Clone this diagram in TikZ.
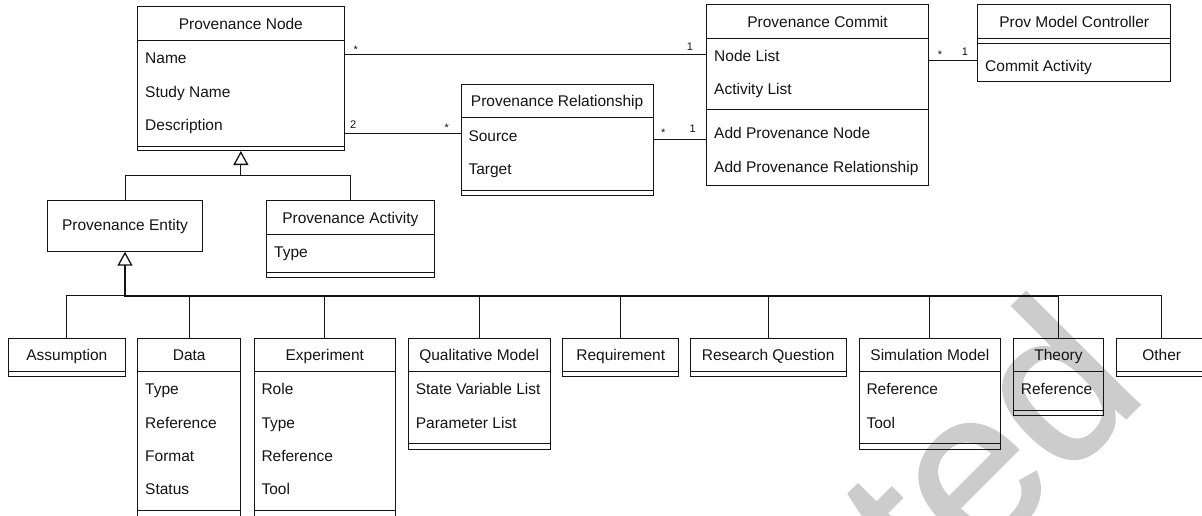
\documentclass[tikz,border=0pt]{standalone}
\usepackage{fontspec}
\setmainfont{Liberation Sans}
\newfontfamily\wmfont[FakeBold=1.2]{Liberation Sans}
\usetikzlibrary{arrows.meta}
\definecolor{ink}{RGB}{20,20,20}
\definecolor{wmgray}{RGB}{204,204,204}

% class box: name, x1, y1, x2, y2, title
\newcommand\umlbox[6]{%
  \node[box, minimum width={(#4-#2)*1pt}, minimum height={(#5-#3)*1pt}] (#1) at ({(#2+#4)/2},{(#3+#5)/2}) {};
  \node[ttl] (#1-title) at ({(#2+#4)/2},{#3+17}) {#6};}
% horizontal compartment line across a box
\newcommand\umlsep[2]{\draw[sect] (#1.west |- 0,#2) -- (#1.east |- 0,#2);}
% attribute / operation row
\newcommand\umlattr[4]{\node[attrtext] (#1-#2) at (#1.west |- 0,#3) {#4};}

\begin{document}
\begin{tikzpicture}[x=1pt,y=-1pt,
  every node/.style={font=\fontsize{15.5}{18}\selectfont},
  box/.style={draw=ink, line width=1pt, inner sep=0pt, outer sep=0pt, rectangle},
  ttl/.style={anchor=base, inner sep=0pt, yshift=-5.5pt, text=ink},
  attrtext/.style={anchor=base west, inner sep=0pt, xshift=7.3pt, yshift=-5.5pt, text=ink},
  sect/.style={draw=ink, line width=1pt},
  assoc/.style={draw=ink, line width=1pt},
  mult/.style={font=\fontsize{11}{13}\selectfont, inner sep=0pt, text=ink},
  genthin/.style={draw=ink, line width=1pt},
  genthick/.style={draw=ink, line width=2.2pt},
  opentri/.style={-{Triangle[open, length=14pt, width=15pt, line width=1.3pt]}},
  wm/.style={anchor=base west, inner sep=0pt, rotate=45, text=wmgray,
             font=\wmfont\fontsize{220}{220}\selectfont}
]
\useasboundingbox (0,0) rectangle (1202,516);

% watermark behind everything
\node[wm] (wmark) at (933,611) {ted};

% ---- upper part ----
\umlbox{pnode}{137.7}{7}{344}{151}{Provenance Node}
\umlsep{pnode}{41}
\umlsep{pnode}{146.7}
\umlattr{pnode}{a}{57.7}{Name}
\umlattr{pnode}{b}{91.7}{Study Name}
\umlattr{pnode}{c}{125}{Description}

\node[box, minimum width=154.6pt, minimum height=51.4pt, text=ink] (pentity) at (125,226) {Provenance Entity};

\umlbox{pact}{266.7}{200.7}{434}{277.3}{Provenance Activity}
\umlsep{pact}{234}
\umlsep{pact}{272.7}
\umlattr{pact}{a}{251.7}{Type}

\umlbox{prel}{461}{84.3}{653.3}{195}{Provenance Relationship}
\umlsep{prel}{117.7}
\umlsep{prel}{190}
\umlattr{prel}{a}{135.7}{Source}
\umlattr{prel}{b}{169}{Target}

\umlbox{pcommit}{706.7}{4.7}{928.3}{185}{Provenance Commit}
\umlsep{pcommit}{38.3}
\umlsep{pcommit}{110}
\umlattr{pcommit}{a}{55.7}{Node List}
\umlattr{pcommit}{b}{89}{Activity List}
\umlattr{pcommit}{c}{132.7}{Add Provenance Node}
\umlattr{pcommit}{d}{166.7}{Add Provenance Relationship}

\umlbox{pctrl}{977.7}{4.7}{1170.7}{81.7}{Prov Model Controller}
\umlsep{pctrl}{38.3}
\umlsep{pctrl}{43.7}
\umlattr{pctrl}{a}{65.7}{Commit Activity}

% ---- entity subclasses ----
\umlbox{assumption}{8.3}{338.3}{125.3}{376.7}{Assumption}
\umlsep{assumption}{371.7}

\umlbox{data}{137.7}{338.3}{240.7}{517}{Data}
\umlsep{data}{371.7}
\umlsep{data}{510.7}
\umlattr{data}{a}{389}{Type}
\umlattr{data}{b}{423}{Reference}
\umlattr{data}{c}{456}{Format}
\umlattr{data}{d}{489.3}{Status}

\umlbox{experiment}{254}{338.3}{395.7}{517}{Experiment}
\umlsep{experiment}{371.7}
\umlsep{experiment}{510.7}
\umlattr{experiment}{a}{389}{Role}
\umlattr{experiment}{b}{423}{Type}
\umlattr{experiment}{c}{456}{Reference}
\umlattr{experiment}{d}{489.3}{Tool}

\umlbox{qual}{408.3}{338.3}{550}{449}{Qualitative Model}
\umlsep{qual}{371.7}
\umlsep{qual}{443.7}
\umlattr{qual}{a}{389}{State Variable List}
\umlattr{qual}{b}{423}{Parameter List}

\umlbox{req}{562.7}{338.3}{678.7}{376.7}{Requirement}
\umlsep{req}{371.7}

\umlbox{rq}{690.3}{338.3}{846}{376.7}{Research Question}
\umlsep{rq}{371.7}

\umlbox{sim}{859}{338.3}{1000.7}{449}{Simulation Model}
\umlsep{sim}{371.7}
\umlsep{sim}{443.7}
\umlattr{sim}{a}{389}{Reference}
\umlattr{sim}{b}{423}{Tool}

\umlbox{theory}{1013.3}{338.3}{1103.7}{415.7}{Theory}
\umlsep{theory}{371.7}
\umlsep{theory}{410.7}
\umlattr{theory}{a}{389}{Reference}

\umlbox{other}{1116}{338.3}{1207.4}{376.7}{Other}
\umlsep{other}{371.7}

% ---- generalization: node ----
\draw[genthin, opentri] (pentity.north) |- (pnode.south |- 0,175.7) -- (pnode.south);
\draw[genthin] (pact.north) |- (pnode.south |- 0,175.7);

% ---- generalization: entity ----
\draw[genthick, opentri] (theory.north |- 0,295.7) -- (pentity.south |- 0,295.7) -- (pentity.south);
\draw[genthin] (assumption.north) |- (pentity.south |- 0,295.7);
\draw[genthin] (other.north) |- (theory.north |- 0,295.7);
\foreach \c in {data,experiment,qual,req,rq,sim,theory}
  \draw[genthin] (\c.north) -- (\c.north |- 0,295.7);

% ---- associations ----
\draw[assoc] (pnode.east |- 0,55) -- (pcommit.west |- 0,55);
\draw[assoc] (pnode.east |- 0,134) -- (prel.west |- 0,134);
\draw[assoc] (prel.east |- 0,140) -- (pcommit.west |- 0,140);
\draw[assoc] (pcommit.east |- 0,61) -- (pctrl.west |- 0,61);

\node[mult] (m1) at (355.7,50.1) {*};
\node[mult] (m2) at (690,46.7) {1};
\node[mult] (m3) at (353.3,125) {2};
\node[mult] (m4) at (446.7,127.4) {*};
\node[mult] (m5) at (663.3,132.4) {*};
\node[mult] (m6) at (692.7,128.3) {1};
\node[mult] (m7) at (940,55.1) {*};
\node[mult] (m8) at (965,51.7) {1};
\end{tikzpicture}
\end{document}
